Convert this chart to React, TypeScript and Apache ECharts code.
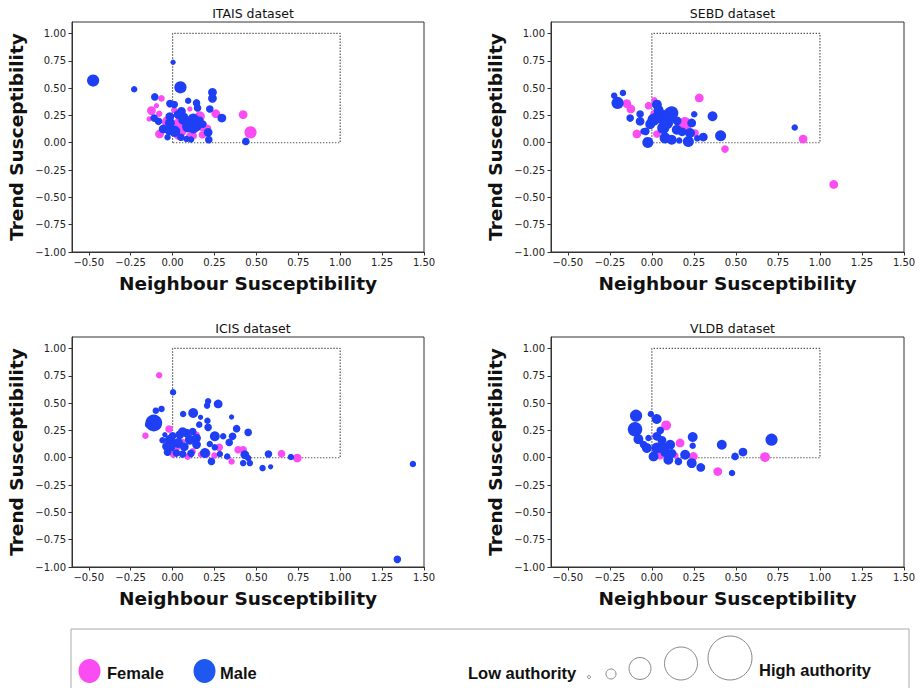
import React, { useEffect, useRef } from "react";
import * as echarts from "echarts";

// Each point: [neighbour susceptibility, trend susceptibility, authority]
const itaisFemale: number[][] = [
  [-0.066, 0.406, 3], [-0.096, 0.339, 2], [-0.126, 0.294, 5], [-0.08, 0.266, 3],
  [-0.14, 0.217, 2], [0.103, 0.309, 2], [0.258, 0.266, 5], [0.163, 0.242, 6],
  [0.421, 0.257, 5], [0.465, 0.095, 8], [0.178, 0.073, 4], [0.212, 0.135, 3],
  [0.123, 0.064, 4], [-0.078, 0.08, 5], [-0.027, 0.19, 8], [0.033, 0.165, 8],
  [0.033, 0.07, 5], [0.18, 0.15, 6], [0.06, 0.1, 4], [0.01, 0.3, 3], [0.103, 0.058, 4],
];
const itaisMale: number[][] = [
  [-0.474, 0.569, 8], [-0.229, 0.489, 3], [0.003, 0.737, 2], [0.047, 0.507, 8],
  [0.238, 0.461, 5], [0.238, 0.406, 5], [-0.106, 0.419, 4], [0.093, 0.385, 3],
  [0.143, 0.364, 4], [0.149, 0.318, 4], [-0.016, 0.358, 4], [0.01, 0.35, 4],
  [-0.11, 0.226, 4], [-0.084, 0.196, 4], [0.053, 0.287, 5], [0.222, 0.309, 4],
  [0.294, 0.226, 5], [0.437, 0.012, 4], [0.216, 0.028, 4], [0.212, 0.095, 5],
  [0.083, 0.034, 3], [0.11, 0.03, 3], [-0.056, 0.126, 5], [-0.016, 0.18, 6],
  [-0.016, 0.12, 7], [0.013, 0.104, 7], [0.063, 0.211, 6], [0.093, 0.15, 8],
  [0.123, 0.211, 8], [0.123, 0.135, 7], [0.143, 0.15, 6], [0.033, 0.257, 5],
  [0.07, 0.24, 4], [-0.016, 0.24, 5], [0.16, 0.2, 5], [0.05, 0.05, 4],
  [-0.03, 0.05, 3], [0.18, 0.17, 4],
];

const sebdFemale: number[][] = [
  [-0.149, 0.358, 5], [-0.125, 0.309, 5], [-0.089, 0.08, 5], [-0.02, 0.339, 4],
  [0.015, 0.388, 3], [0.03, 0.08, 4], [0.282, 0.41, 5], [0.197, 0.174, 9],
  [0.205, 0.13, 6], [0.257, 0.089, 4], [0.435, -0.058, 4], [0.9, 0.034, 5],
  [1.082, -0.382, 5], [0.01, 0.27, 3],
];
const sebdMale: number[][] = [
  [-0.224, 0.431, 3], [-0.172, 0.456, 3], [-0.204, 0.364, 8], [-0.129, 0.226, 4],
  [-0.07, 0.263, 4], [-0.07, 0.196, 5], [-0.05, 0.104, 3], [-0.036, 0.104, 4],
  [-0.024, 0.003, 7], [0.03, 0.349, 6], [0.049, 0.242, 10], [0.108, 0.257, 10],
  [0.118, 0.272, 9], [0.01, 0.211, 8], [0.068, 0.135, 8], [0.09, 0.18, 8],
  [0.148, 0.119, 6], [0.079, 0.043, 7], [0.118, 0.028, 6], [0.163, 0.021, 3],
  [0.217, 0.012, 7], [0.227, 0.089, 6], [0.237, 0.181, 5], [0.252, 0.26, 3],
  [0.361, 0.242, 6], [0.409, 0.064, 7], [0.306, 0.052, 5], [0.27, 0.04, 3],
  [0.85, 0.14, 3], [-0.01, 0.17, 6], [0.04, 0.3, 6], [0.15, 0.2, 5], [0.18, 0.1, 5],
];

const icisFemale: number[][] = [
  [-0.08, 0.755, 3], [-0.162, 0.202, 3], [-0.021, 0.263, 4], [0.278, 0.095, 4],
  [0.2, 0.04, 5], [0.352, -0.034, 3], [0.391, 0.073, 4], [0.421, 0.073, 4],
  [0.65, 0.037, 4], [0.744, -0.003, 5], [0.013, 0.073, 3], [0.003, 0.03, 3],
  [0.09, 0.01, 3], [0.143, 0.21, 3], [0.0, 0.165, 2], [0.06, 0.15, 2],
  [0.03, 0.09, 2], [0.17, 0.03, 3], [0.12, 0.06, 3], [0.25, 0.02, 3], [-0.03, 0.13, 3],
];
const icisMale: number[][] = [
  [0.003, 0.599, 3], [-0.112, 0.318, 12], [-0.146, 0.303, 3], [-0.1, 0.431, 3],
  [-0.066, 0.447, 3], [-0.046, 0.211, 2], [0.212, 0.517, 3], [0.206, 0.477, 3],
  [0.272, 0.492, 5], [0.123, 0.41, 6], [0.063, 0.401, 3], [0.167, 0.37, 2],
  [0.208, 0.339, 3], [0.159, 0.303, 3], [0.212, 0.278, 4], [0.352, 0.373, 2],
  [0.382, 0.266, 4], [0.451, 0.232, 4], [0.252, 0.196, 6], [0.302, 0.196, 3],
  [0.358, 0.196, 4], [0.338, 0.14, 4], [0.222, 0.125, 3], [0.252, 0.095, 3],
  [0.193, 0.043, 6], [0.232, -0.034, 4], [0.282, 0.034, 3], [0.326, 0.012, 3],
  [0.431, 0.028, 5], [0.451, -0.003, 3], [0.421, -0.049, 3], [0.461, -0.049, 3],
  [0.537, -0.095, 3], [0.585, -0.083, 2], [0.572, 0.034, 4], [0.706, 0.006, 3],
  [1.434, -0.058, 3], [1.341, -0.93, 4], [-0.016, 0.165, 6], [-0.016, 0.104, 7],
  [0.043, 0.211, 5], [0.083, 0.226, 5], [0.103, 0.165, 6], [0.143, 0.18, 5],
  [0.033, 0.135, 6], [0.07, 0.1, 5], [0.143, 0.12, 5], [0.023, 0.043, 4],
  [0.06, 0.034, 4], [0.11, 0.04, 4], [-0.036, 0.104, 5], [-0.03, 0.05, 4],
  [0.06, 0.24, 5], [0.12, 0.24, 4], [0.0, 0.2, 4], [-0.06, 0.16, 3],
];

const vldbFemale: number[][] = [
  [0.085, 0.296, 6], [0.025, 0.196, 4], [0.168, 0.135, 5], [0.247, 0.012, 5],
  [0.392, -0.126, 5], [0.673, 0.006, 6], [0.049, 0.018, 4], [0.14, 0.02, 3],
];
const vldbMale: number[][] = [
  [-0.094, 0.385, 8], [-0.1, 0.26, 10], [-0.08, 0.17, 6], [-0.006, 0.4, 3],
  [0.029, 0.355, 6], [0.03, 0.196, 5], [0.06, 0.16, 5], [-0.02, 0.18, 3],
  [-0.03, 0.089, 6], [0.01, 0.012, 6], [0.03, 0.089, 7], [0.069, 0.089, 7],
  [0.098, -0.018, 6], [0.109, 0.119, 6], [0.158, -0.034, 4], [0.243, 0.19, 6],
  [0.243, 0.11, 3], [0.198, 0.028, 6], [0.237, -0.049, 6], [0.291, -0.089, 5],
  [0.477, -0.14, 3], [0.416, 0.119, 6], [0.495, 0.012, 4], [0.542, 0.052, 5],
  [0.712, 0.165, 8], [0.08, 0.05, 6], [0.12, 0.04, 5], [-0.05, 0.12, 4], [0.05, 0.25, 4],
];

const datasetTitles = ["ITAIS dataset", "SEBD dataset", "ICIS dataset", "VLDB dataset"];
const femaleSets = [itaisFemale, sebdFemale, icisFemale, vldbFemale];
const maleSets = [itaisMale, sebdMale, icisMale, vldbMale];

const xTicks = [-0.5, -0.25, 0, 0.25, 0.5, 0.75, 1, 1.25, 1.5];
const yTicks = [-1, -0.75, -0.5, -0.25, 0, 0.25, 0.5, 0.75, 1];
// Region of high susceptibility on both measures
const highRegion: number[][] = [[0, 0], [0, 1], [1, 1], [1, 0], [0, 0]];

const FEMALE = "#fb4bf2";
const MALE = "#1f3ff5";
const TICK_FONT = "DejaVu Sans";

const fmt = (v: number) => (v < 0 ? "\u2212" : "") + Math.abs(v).toFixed(2);
const authoritySize = (v: number[]) => 3 + v[2] * 1.15;

function buildOption() {
  const lefts = [72, 551];
  const widths = [352, 353];
  const tops = [22, 337];
  const grids: any[] = [];
  const xAxes: any[] = [];
  const yAxes: any[] = [];
  const series: any[] = [];
  const titles: any[] = [];

  for (let i = 0; i < 4; i++) {
    const col = i % 2;
    const row = Math.floor(i / 2);
    grids.push({
      left: lefts[col],
      top: tops[row],
      width: widths[col],
      height: 230,
      show: true,
      borderColor: "#333",
      borderWidth: 1,
      backgroundColor: "transparent",
    });
    titles.push({
      text: datasetTitles[i],
      left: lefts[col] + widths[col] / 2,
      top: tops[row] - 20,
      textAlign: "center",
      textStyle: { fontFamily: TICK_FONT, fontSize: 12.5, fontWeight: "normal", color: "#111" },
    });
    xAxes.push({
      type: "value",
      gridIndex: i,
      min: -0.6,
      max: 1.5,
      splitLine: { show: false },
      axisLine: { show: true, onZero: false, lineStyle: { color: "#333", width: 1 } },
      axisTick: { show: true, inside: false, length: 3.5, customValues: xTicks, lineStyle: { color: "#333" } },
      axisLabel: {
        customValues: xTicks,
        formatter: fmt,
        fontFamily: TICK_FONT,
        fontSize: 10,
        color: "#222",
        margin: 5,
      },
      name: "Neighbour Susceptibility",
      nameLocation: "middle",
      nameGap: 22,
      nameTextStyle: {
        fontFamily: TICK_FONT,
        fontWeight: "bold",
        fontSize: 18.5,
        color: "#111",
        verticalAlign: "top",
      },
    });
    yAxes.push({
      type: "value",
      gridIndex: i,
      min: -1,
      max: 1.105,
      splitLine: { show: false },
      axisLine: { show: true, onZero: false, lineStyle: { color: "#333", width: 1 } },
      axisTick: { show: true, inside: false, length: 3.5, customValues: yTicks, lineStyle: { color: "#333" } },
      axisLabel: {
        customValues: yTicks,
        formatter: fmt,
        fontFamily: TICK_FONT,
        fontSize: 10,
        color: "#222",
        margin: 6,
      },
      name: "Trend Susceptibility",
      nameLocation: "middle",
      nameGap: 46,
      nameRotate: 90,
      nameTextStyle: {
        fontFamily: TICK_FONT,
        fontWeight: "bold",
        fontSize: 18.5,
        color: "#111",
      },
    });
    series.push({
      type: "line",
      xAxisIndex: i,
      yAxisIndex: i,
      data: highRegion,
      symbol: "none",
      silent: true,
      z: 1,
      lineStyle: { color: "#555", width: 1.2, type: [1.4, 1.6] },
    });
    series.push({
      type: "scatter",
      name: "Female",
      xAxisIndex: i,
      yAxisIndex: i,
      data: femaleSets[i],
      symbol: "circle",
      symbolSize: authoritySize,
      itemStyle: { color: FEMALE, opacity: 1 },
      z: 2,
    });
    series.push({
      type: "scatter",
      name: "Male",
      xAxisIndex: i,
      yAxisIndex: i,
      data: maleSets[i],
      symbol: "circle",
      symbolSize: authoritySize,
      itemStyle: { color: MALE, opacity: 1 },
      z: 3,
    });
  }

  const legendFont = { fontFamily: "Liberation Sans", fontWeight: "bold", fontSize: 16.5, fill: "#111" };
  const sizeKey = [
    { cx: 589, cy: 677, r: 1.5 },
    { cx: 611, cy: 674, r: 5 },
    { cx: 640, cy: 668.5, r: 11 },
    { cx: 681, cy: 663.5, r: 16.5 },
    { cx: 730, cy: 658, r: 22 },
  ];

  const graphic: any[] = [
    {
      type: "rect",
      shape: { x: 71, y: 629, width: 838, height: 70 },
      style: { fill: "none", stroke: "#aaa", lineWidth: 1 },
      silent: true,
    },
    { type: "ellipse", shape: { cx: 89.5, cy: 671, rx: 11, ry: 12 }, style: { fill: FEMALE } },
    { type: "text", x: 107, y: 673, style: { text: "Female", ...legendFont, textVerticalAlign: "middle" } },
    { type: "ellipse", shape: { cx: 204.5, cy: 671, rx: 11, ry: 12 }, style: { fill: "#1f58f0" } },
    { type: "text", x: 220, y: 673, style: { text: "Male", ...legendFont, textVerticalAlign: "middle" } },
    { type: "text", x: 468, y: 673, style: { text: "Low authority", ...legendFont, textVerticalAlign: "middle" } },
    { type: "text", x: 759, y: 670, style: { text: "High authority", ...legendFont, textVerticalAlign: "middle" } },
    ...sizeKey.map((c) => ({
      type: "circle",
      shape: { cx: c.cx, cy: c.cy, r: c.r },
      style: { fill: "none", stroke: "#888", lineWidth: 1 },
    })),
  ];

  return {
    animation: false,
    backgroundColor: "#ffffff",
    title: titles,
    grid: grids,
    xAxis: xAxes,
    yAxis: yAxes,
    series,
    graphic,
  };
}

export default function App() {
  const ref = useRef<HTMLDivElement>(null);
  useEffect(() => {
    if (!ref.current) return;
    const chart = echarts.init(ref.current, null, { renderer: "svg" });
    chart.setOption(buildOption() as any);
    return () => chart.dispose();
  }, []);
  return (
    <div
      ref={ref}
      style={{ position: "fixed", left: 0, top: 0, width: 923, height: 688, background: "#fff" }}
    />
  );
}
